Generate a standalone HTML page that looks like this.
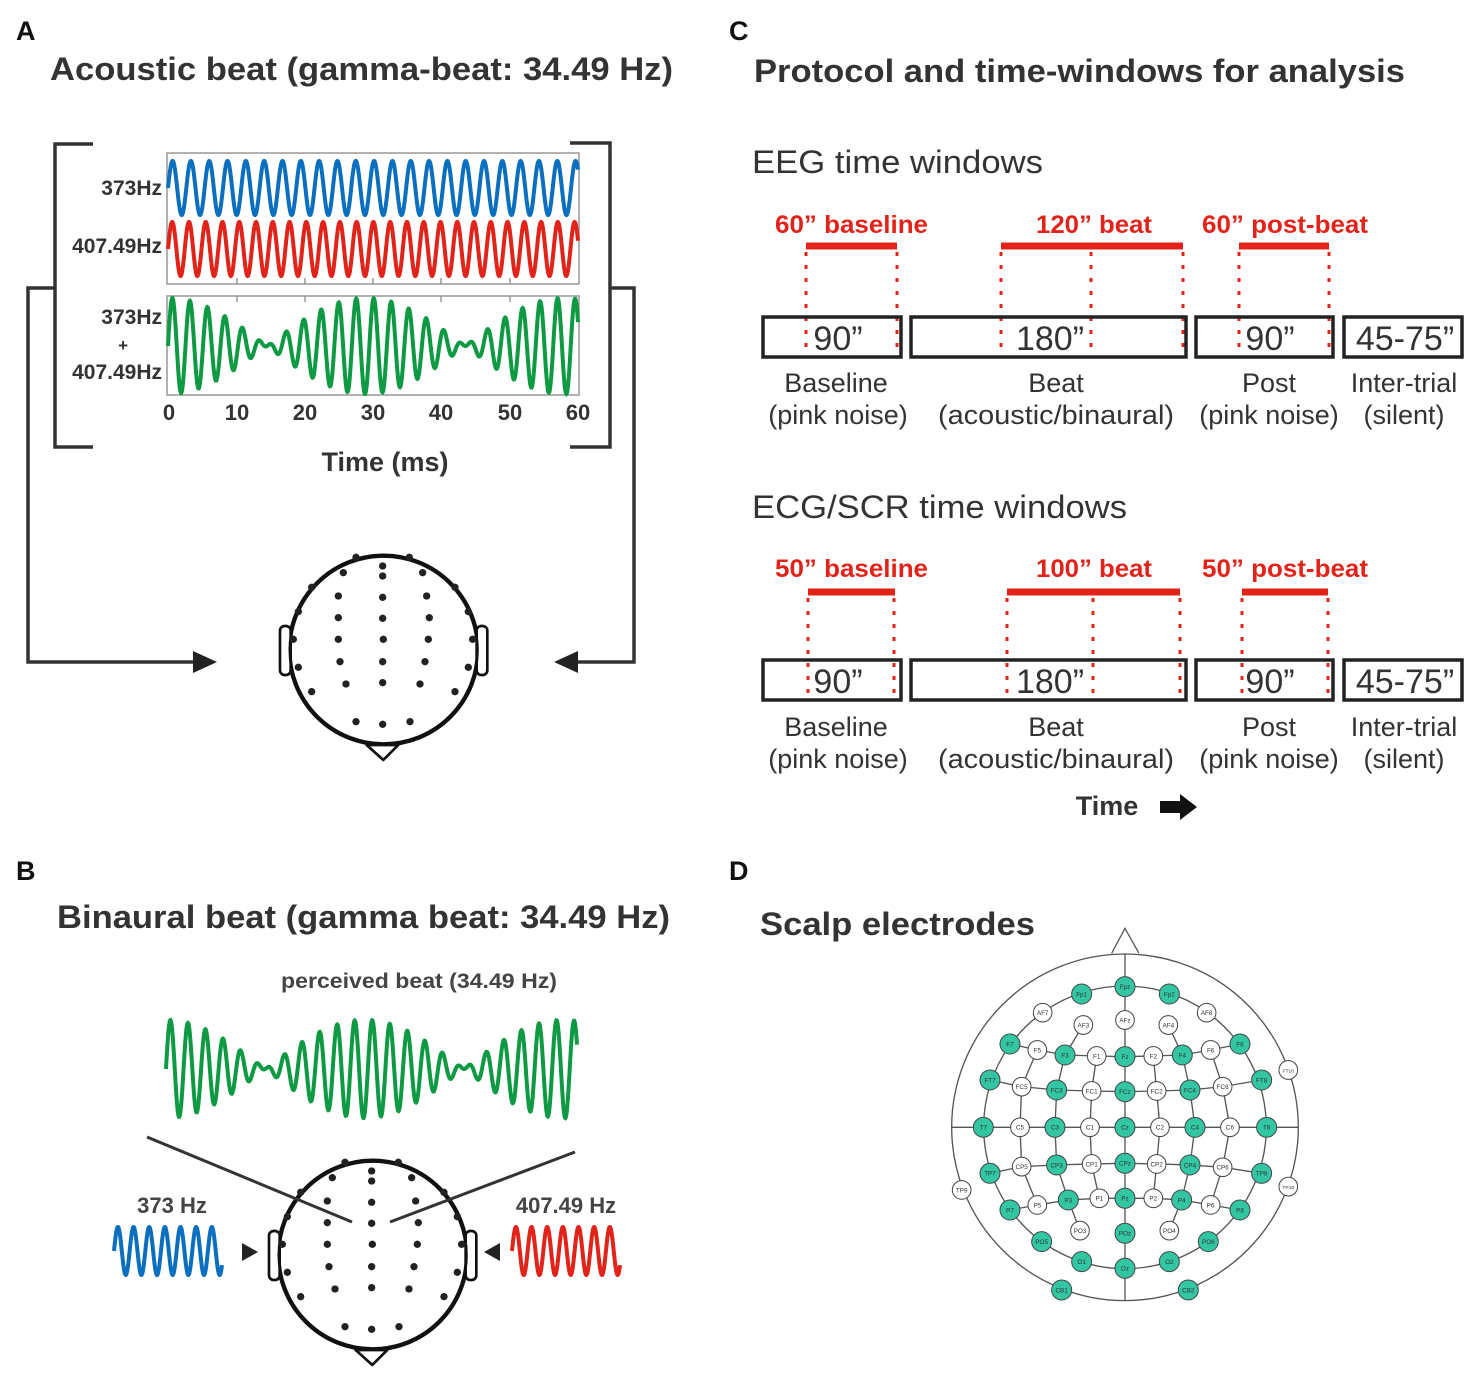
<!DOCTYPE html>
<html><head><meta charset="utf-8"><style>
html,body{margin:0;padding:0;background:#fff}
svg{display:block}
text{font-family:"Liberation Sans",Arial,sans-serif;fill:#333}
.b{font-weight:bold}
.r{fill:#e2231a;font-weight:bold}
</style></head><body>
<svg id="s" width="1477" height="1373" viewBox="0 0 1477 1373" xmlns="http://www.w3.org/2000/svg">
<defs>
<g id="head">
 <circle cx="341" cy="300" r="285" fill="none" stroke="#111" stroke-width="9"/>
 <rect x="30" y="228" width="32" height="147" rx="14" fill="#fff" stroke="#111" stroke-width="8"/>
 <rect x="620" y="228" width="32" height="147" rx="14" fill="#fff" stroke="#111" stroke-width="8"/>
 <path d="M290 585 L385 585 L340 630 Z" fill="#fff" stroke="#111" stroke-width="8" stroke-linejoin="round"/>
 <circle cx="341" cy="300" r="281" fill="none" stroke="#111" stroke-width="9"/>
 <g fill="#222">
 <circle cx="258" cy="22" r="11"/><circle cx="418" cy="22" r="11"/><circle cx="338" cy="48" r="11"/><circle cx="338" cy="78" r="11"/>
 <circle cx="220" cy="68" r="11"/><circle cx="458" cy="68" r="11"/><circle cx="125" cy="112" r="11"/><circle cx="555" cy="112" r="11"/>
 <circle cx="205" cy="138" r="11"/><circle cx="338" cy="142" r="11"/><circle cx="470" cy="138" r="11"/><circle cx="85" cy="185" r="11"/>
 <circle cx="595" cy="185" r="11"/><circle cx="205" cy="203" r="11"/><circle cx="338" cy="205" r="11"/><circle cx="478" cy="203" r="11"/>
 <circle cx="70" cy="268" r="11"/><circle cx="608" cy="268" r="11"/><circle cx="205" cy="268" r="11"/><circle cx="340" cy="268" r="11"/>
 <circle cx="475" cy="268" r="11"/><circle cx="85" cy="352" r="11"/><circle cx="595" cy="352" r="11"/><circle cx="210" cy="335" r="11"/>
 <circle cx="338" cy="335" r="11"/><circle cx="465" cy="335" r="11"/><circle cx="125" cy="425" r="11"/><circle cx="555" cy="425" r="11"/>
 <circle cx="228" cy="402" r="11"/><circle cx="338" cy="398" r="11"/><circle cx="450" cy="402" r="11"/><circle cx="258" cy="515" r="11"/>
 <circle cx="338" cy="523" r="11"/><circle cx="420" cy="515" r="11"/>
 </g>
</g>
</defs>

<!-- Panel A -->
<text x="16" y="40" class="b" font-size="27" style="fill:#111">A</text>
<text x="50" y="80" class="b" font-size="32" textLength="623" lengthAdjust="spacingAndGlyphs">Acoustic beat (gamma-beat: 34.49 Hz)</text>
<rect x="167" y="153" width="412" height="131" fill="none" stroke="#999" stroke-width="1.5"/>
<rect x="167" y="296" width="412" height="99" fill="none" stroke="#999" stroke-width="1.5"/>
<g stroke="#999" stroke-width="1.5">
<line x1="237" y1="284" x2="237" y2="278"/><line x1="305" y1="284" x2="305" y2="278"/><line x1="373" y1="284" x2="373" y2="278"/><line x1="441" y1="284" x2="441" y2="278"/><line x1="510" y1="284" x2="510" y2="278"/>
<line x1="237" y1="296" x2="237" y2="302"/><line x1="305" y1="296" x2="305" y2="302"/><line x1="373" y1="296" x2="373" y2="302"/><line x1="441" y1="296" x2="441" y2="302"/><line x1="510" y1="296" x2="510" y2="302"/>
</g>
<path id="wBlue" fill="none" stroke="#0b6fc0" stroke-width="4"/>
<path id="wRed" fill="none" stroke="#e2231a" stroke-width="4"/>
<path id="wGreen" fill="none" stroke="#0e9a43" stroke-width="4"/>
<g class="b" font-size="21" text-anchor="end">
<text x="162" y="195">373Hz</text><text x="162" y="253">407.49Hz</text>
<text x="162" y="324">373Hz</text><text x="128" y="351" font-size="17">+</text><text x="162" y="379">407.49Hz</text>
</g>
<g class="b" font-size="22" text-anchor="middle">
<text x="169" y="420">0</text><text x="237" y="420">10</text><text x="305" y="420">20</text><text x="373" y="420">30</text><text x="441" y="420">40</text><text x="510" y="420">50</text><text x="578" y="420">60</text>
</g>
<text x="385" y="471" class="b" font-size="27" text-anchor="middle">Time (ms)</text>
<g fill="none" stroke="#333" stroke-width="3.5">
<path d="M93 144 L55 144 L55 447 L93 447"/>
<path d="M570 143 L610 143 L610 447 L570 447"/>
<path d="M55 288 L28 288 L28 662 L195 662"/>
<path d="M610 288 L634 288 L634 662 L578 662"/>
</g>
<path d="M193 651 L217 662 L193 673 Z" fill="#222"/>
<path d="M578 651 L554 662 L578 673 Z" fill="#222"/>
<use href="#head" transform="translate(270,550) scale(0.3333)"/>

<!-- Panel B -->
<text x="16" y="880" class="b" font-size="27" style="fill:#111">B</text>
<text x="57" y="928" class="b" font-size="32" textLength="613" lengthAdjust="spacingAndGlyphs">Binaural beat (gamma beat: 34.49 Hz)</text>
<text x="281" y="988" class="b" font-size="21" textLength="276" lengthAdjust="spacingAndGlyphs" style="fill:#444">perceived beat (34.49 Hz)</text>
<path id="bGreen" fill="none" stroke="#0e9a43" stroke-width="4"/>
<use href="#head" transform="translate(259,1155) scale(0.3333)"/>
<line x1="147" y1="1137" x2="352" y2="1222" stroke="#333" stroke-width="3"/>
<line x1="575" y1="1152" x2="390" y2="1222" stroke="#333" stroke-width="3"/>
<text x="172" y="1213" class="b" font-size="22" text-anchor="middle" style="fill:#444">373 Hz</text>
<text x="566" y="1213" class="b" font-size="22" text-anchor="middle" style="fill:#444">407.49 Hz</text>
<path id="bBlue" fill="none" stroke="#0b6fc0" stroke-width="4"/>
<path id="bRed" fill="none" stroke="#e2231a" stroke-width="4"/>
<path d="M242 1243 L258 1252 L242 1261 Z" fill="#222"/>
<path d="M500 1243 L484 1252 L500 1261 Z" fill="#222"/>

<!-- Panel C -->
<text x="729" y="40" class="b" font-size="27" style="fill:#111">C</text>
<text x="754" y="82" class="b" font-size="32" textLength="651" lengthAdjust="spacingAndGlyphs">Protocol and time-windows for analysis</text>
<text x="752" y="173" font-size="32" textLength="291" lengthAdjust="spacingAndGlyphs">EEG time windows</text>
<text x="752" y="518" font-size="32" textLength="375" lengthAdjust="spacingAndGlyphs">ECG/SCR time windows</text>
<g>
<text x="775" y="233" class="r" font-size="25" textLength="153" lengthAdjust="spacingAndGlyphs">60” baseline</text>
<text x="1036" y="233" class="r" font-size="25" textLength="116" lengthAdjust="spacingAndGlyphs">120” beat</text>
<text x="1202" y="233" class="r" font-size="25" textLength="166" lengthAdjust="spacingAndGlyphs">60” post-beat</text>
<g stroke="#e2231a" stroke-width="7"><line x1="806" y1="246" x2="897" y2="246"/><line x1="1001" y1="246" x2="1183" y2="246"/><line x1="1239" y1="246" x2="1329" y2="246"/></g>
<g stroke="#e2231a" stroke-width="3" stroke-dasharray="4,9"><line x1="806" y1="252" x2="806" y2="357"/><line x1="897" y1="252" x2="897" y2="357"/><line x1="1001" y1="252" x2="1001" y2="357"/><line x1="1091" y1="252" x2="1091" y2="357"/><line x1="1183" y1="252" x2="1183" y2="357"/><line x1="1239" y1="252" x2="1239" y2="357"/><line x1="1329" y1="252" x2="1329" y2="357"/></g>
<g fill="none" stroke="#222" stroke-width="3.5"><rect x="763" y="317" width="138" height="40"/><rect x="911" y="317" width="275" height="40"/><rect x="1196" y="317" width="137" height="40"/><rect x="1344" y="317" width="118" height="40"/></g>
<g font-size="34" text-anchor="middle" style="fill:#222"><text x="838" y="350">90”</text><text x="1050" y="350">180”</text><text x="1270" y="350">90”</text><text x="1405" y="350">45-75”</text></g>
<g font-size="27" text-anchor="middle"><text x="836" y="392">Baseline</text><text x="838" y="424">(pink noise)</text><text x="1056" y="392">Beat</text><text x="1056" y="424" textLength="236" lengthAdjust="spacingAndGlyphs">(acoustic/binaural)</text><text x="1269" y="392">Post</text><text x="1269" y="424">(pink noise)</text><text x="1404" y="392">Inter-trial</text><text x="1404" y="424">(silent)</text></g>
</g>
<g>
<text x="775" y="577" class="r" font-size="25" textLength="153" lengthAdjust="spacingAndGlyphs">50” baseline</text>
<text x="1036" y="577" class="r" font-size="25" textLength="116" lengthAdjust="spacingAndGlyphs">100” beat</text>
<text x="1202" y="577" class="r" font-size="25" textLength="166" lengthAdjust="spacingAndGlyphs">50” post-beat</text>
<g stroke="#e2231a" stroke-width="7"><line x1="808" y1="592" x2="895" y2="592"/><line x1="1007" y1="592" x2="1180" y2="592"/><line x1="1242" y1="592" x2="1328" y2="592"/></g>
<g stroke="#e2231a" stroke-width="3" stroke-dasharray="4,9"><line x1="808" y1="598" x2="808" y2="700"/><line x1="894" y1="598" x2="894" y2="700"/><line x1="1007" y1="598" x2="1007" y2="700"/><line x1="1093" y1="598" x2="1093" y2="700"/><line x1="1180" y1="598" x2="1180" y2="700"/><line x1="1242" y1="598" x2="1242" y2="700"/><line x1="1328" y1="598" x2="1328" y2="700"/></g>
<g fill="none" stroke="#222" stroke-width="3.5"><rect x="763" y="660" width="138" height="40"/><rect x="911" y="660" width="275" height="40"/><rect x="1196" y="660" width="137" height="40"/><rect x="1344" y="660" width="118" height="40"/></g>
<g font-size="34" text-anchor="middle" style="fill:#222"><text x="838" y="693">90”</text><text x="1050" y="693">180”</text><text x="1270" y="693">90”</text><text x="1405" y="693">45-75”</text></g>
<g font-size="27" text-anchor="middle"><text x="836" y="736">Baseline</text><text x="838" y="768">(pink noise)</text><text x="1056" y="736">Beat</text><text x="1056" y="768" textLength="236" lengthAdjust="spacingAndGlyphs">(acoustic/binaural)</text><text x="1269" y="736">Post</text><text x="1269" y="768">(pink noise)</text><text x="1404" y="736">Inter-trial</text><text x="1404" y="768">(silent)</text></g>
</g>
<text x="1107" y="815" class="b" font-size="27" text-anchor="middle">Time</text>
<path d="M1160 801 L1180 801 L1180 794 L1197 807 L1180 820 L1180 813 L1160 813 Z" fill="#111"/>

<!-- Panel D -->
<text x="729" y="880" class="b" font-size="27" style="fill:#111">D</text>
<text x="760" y="935" class="b" font-size="32" textLength="275" lengthAdjust="spacingAndGlyphs">Scalp electrodes</text>
<g transform="translate(940,920) scale(0.3333)">
<g fill="none" stroke="#555" stroke-width="4">
 <path d="M515 100 L555 25 L597 100"/>
 <circle cx="555" cy="622" r="520"/>
 <circle cx="555" cy="622" r="424"/>
 <line x1="555" y1="102" x2="555" y2="1142"/>
 <line x1="35" y1="622" x2="1075" y2="622"/>
 <polyline points="210,372 292,390 375,405 470,408 555,410 640,408 727,405 812,390 900,372"/>
 <polyline points="150,480 245,500 350,510 455,513 555,515 650,513 750,510 848,500 965,480"/>
 <polyline points="150,760 245,740 350,735 455,732 555,730 650,732 750,735 848,742 965,760"/>
 <polyline points="210,870 292,855 385,840 478,835 555,835 640,835 725,840 812,855 900,870"/>
 <polyline points="430,315 375,405 350,510 345,622 350,735 385,840 420,932"/>
 <polyline points="685,315 727,405 750,510 765,622 750,735 725,840 688,932"/>
 <polyline points="292,390 245,500 240,622 245,740 292,855"/>
 <polyline points="812,390 848,500 870,622 848,742 812,855"/>
 <polyline points="470,408 455,513 450,622 455,732 478,835"/>
 <polyline points="640,408 650,513 660,622 650,732 640,835"/>
</g>
<g stroke="#444" stroke-width="3">
<circle cx="555" cy="200" r="30" fill="#33c6a3"/><circle cx="425" cy="222" r="30" fill="#33c6a3"/><circle cx="688" cy="222" r="30" fill="#33c6a3"/>
<circle cx="308" cy="278" r="28" fill="#fff"/><circle cx="555" cy="300" r="28" fill="#fff"/><circle cx="800" cy="278" r="28" fill="#fff"/><circle cx="430" cy="315" r="28" fill="#fff"/><circle cx="685" cy="315" r="28" fill="#fff"/>
<circle cx="210" cy="372" r="30" fill="#33c6a3"/><circle cx="292" cy="390" r="28" fill="#fff"/><circle cx="375" cy="405" r="30" fill="#33c6a3"/><circle cx="470" cy="408" r="28" fill="#fff"/><circle cx="555" cy="410" r="30" fill="#33c6a3"/><circle cx="640" cy="408" r="28" fill="#fff"/><circle cx="727" cy="405" r="30" fill="#33c6a3"/><circle cx="812" cy="390" r="28" fill="#fff"/><circle cx="900" cy="372" r="30" fill="#33c6a3"/>
<circle cx="1045" cy="450" r="28" fill="#fff"/>
<circle cx="150" cy="480" r="30" fill="#33c6a3"/><circle cx="245" cy="500" r="28" fill="#fff"/><circle cx="350" cy="510" r="30" fill="#33c6a3"/><circle cx="455" cy="513" r="28" fill="#fff"/><circle cx="555" cy="515" r="30" fill="#33c6a3"/><circle cx="650" cy="513" r="28" fill="#fff"/><circle cx="750" cy="510" r="30" fill="#33c6a3"/><circle cx="848" cy="500" r="28" fill="#fff"/><circle cx="965" cy="480" r="30" fill="#33c6a3"/>
<circle cx="130" cy="622" r="30" fill="#33c6a3"/><circle cx="240" cy="622" r="28" fill="#fff"/><circle cx="345" cy="622" r="30" fill="#33c6a3"/><circle cx="450" cy="622" r="28" fill="#fff"/><circle cx="555" cy="622" r="30" fill="#33c6a3"/><circle cx="660" cy="622" r="28" fill="#fff"/><circle cx="765" cy="622" r="30" fill="#33c6a3"/><circle cx="870" cy="622" r="28" fill="#fff"/><circle cx="980" cy="622" r="30" fill="#33c6a3"/>
<circle cx="150" cy="760" r="30" fill="#33c6a3"/><circle cx="245" cy="740" r="28" fill="#fff"/><circle cx="350" cy="735" r="30" fill="#33c6a3"/><circle cx="455" cy="732" r="28" fill="#fff"/><circle cx="555" cy="730" r="30" fill="#33c6a3"/><circle cx="650" cy="732" r="28" fill="#fff"/><circle cx="750" cy="735" r="30" fill="#33c6a3"/><circle cx="848" cy="742" r="28" fill="#fff"/><circle cx="965" cy="760" r="30" fill="#33c6a3"/>
<circle cx="65" cy="810" r="28" fill="#fff"/><circle cx="1045" cy="800" r="28" fill="#fff"/>
<circle cx="210" cy="870" r="30" fill="#33c6a3"/><circle cx="292" cy="855" r="28" fill="#fff"/><circle cx="385" cy="840" r="30" fill="#33c6a3"/><circle cx="478" cy="835" r="28" fill="#fff"/><circle cx="555" cy="835" r="30" fill="#33c6a3"/><circle cx="640" cy="835" r="28" fill="#fff"/><circle cx="725" cy="840" r="30" fill="#33c6a3"/><circle cx="812" cy="855" r="28" fill="#fff"/><circle cx="900" cy="870" r="30" fill="#33c6a3"/>
<circle cx="305" cy="965" r="30" fill="#33c6a3"/><circle cx="420" cy="932" r="28" fill="#fff"/><circle cx="555" cy="940" r="30" fill="#33c6a3"/><circle cx="688" cy="932" r="28" fill="#fff"/><circle cx="805" cy="965" r="30" fill="#33c6a3"/>
<circle cx="425" cy="1025" r="30" fill="#33c6a3"/><circle cx="555" cy="1045" r="30" fill="#33c6a3"/><circle cx="688" cy="1025" r="30" fill="#33c6a3"/><circle cx="365" cy="1110" r="30" fill="#33c6a3"/><circle cx="745" cy="1110" r="30" fill="#33c6a3"/>
</g>
<g font-size="19" text-anchor="middle" style="font-family:'Liberation Sans',sans-serif">
<text x="555" y="207">Fpz</text><text x="425" y="229">Fp1</text><text x="688" y="229">Fp2</text>
<text x="308" y="285">AF7</text><text x="555" y="307">AFz</text><text x="800" y="285">AF8</text><text x="430" y="322">AF3</text><text x="685" y="322">AF4</text>
<text x="210" y="379">F7</text><text x="292" y="397">F5</text><text x="375" y="412">F3</text><text x="470" y="415">F1</text><text x="555" y="417">Fz</text><text x="640" y="415">F2</text><text x="727" y="412">F4</text><text x="812" y="397">F6</text><text x="900" y="379">F8</text>
<text x="1045" y="457" font-size="15">FT10</text>
<text x="150" y="487">FT7</text><text x="245" y="507">FC5</text><text x="350" y="517">FC3</text><text x="455" y="520">FC1</text><text x="555" y="522">FCz</text><text x="650" y="520">FC2</text><text x="750" y="517">FC4</text><text x="848" y="507">FC6</text><text x="965" y="487">FT8</text>
<text x="130" y="629">T7</text><text x="240" y="629">C5</text><text x="345" y="629">C3</text><text x="450" y="629">C1</text><text x="555" y="629">Cz</text><text x="660" y="629">C2</text><text x="765" y="629">C4</text><text x="870" y="629">C6</text><text x="980" y="629">T8</text>
<text x="150" y="767">TP7</text><text x="245" y="747">CP5</text><text x="350" y="742">CP3</text><text x="455" y="739">CP1</text><text x="555" y="737">CPz</text><text x="650" y="739">CP2</text><text x="750" y="742">CP4</text><text x="848" y="749">CP6</text><text x="965" y="767">TP8</text>
<text x="65" y="817">TP9</text><text x="1045" y="807" font-size="15">TP10</text>
<text x="210" y="877">P7</text><text x="292" y="862">P5</text><text x="385" y="847">P3</text><text x="478" y="842">P1</text><text x="555" y="842">Pz</text><text x="640" y="842">P2</text><text x="725" y="847">P4</text><text x="812" y="862">P6</text><text x="900" y="877">P8</text>
<text x="305" y="972">PO5</text><text x="420" y="939">PO3</text><text x="555" y="947">POz</text><text x="688" y="939">PO4</text><text x="805" y="972">PO6</text>
<text x="425" y="1032">O1</text><text x="555" y="1052">Oz</text><text x="688" y="1032">O2</text><text x="365" y="1117">CB1</text><text x="745" y="1117">CB2</text>
</g>
</g>
</svg>
<script>
function mk(id,x0,x1,cy,amp,f){var d="",N=1200;for(var i=0;i<=N;i++){var u=i/N,x=x0+(x1-x0)*u,y=cy-amp*f(u);d+=(i?"L":"M")+x.toFixed(2)+" "+y.toFixed(2);}document.getElementById(id).setAttribute("d",d);}
var P=Math.PI*2;
mk("wBlue",168,578,188,27,function(u){return Math.sin(P*22.38*u);});
mk("wRed",168,578,249,27,function(u){return Math.sin(P*24.45*u);});
function g(u){return (Math.sin(P*22.38*u)+Math.sin(P*24.45*u))/2;}
mk("wGreen",168,578,346,48,g);
mk("bGreen",166,577,1069,49,g);
mk("bBlue",114,222,1251,24,function(u){return Math.sin(P*6.9*u);});
mk("bRed",512,620,1251,24,function(u){return Math.sin(P*6.9*u);});
</script>
</body></html>
